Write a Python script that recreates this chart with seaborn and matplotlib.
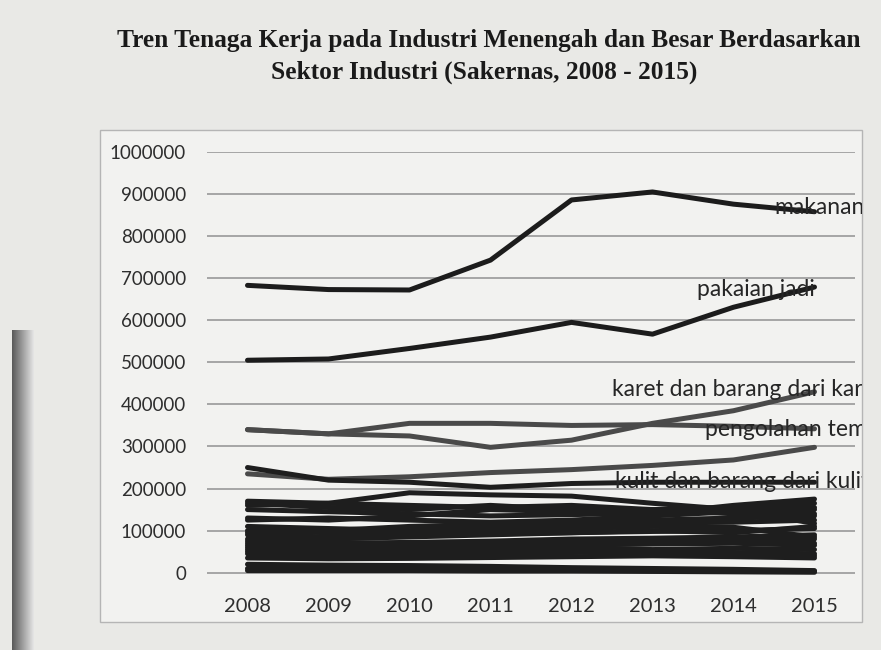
import numpy as np
import pandas as pd
import matplotlib
matplotlib.use("Agg")
import matplotlib.pyplot as plt
import seaborn as sns
from matplotlib.patches import Rectangle
from matplotlib.transforms import Bbox, TransformedBbox

# ---------------- data ----------------
years = ["2008", "2009", "2010", "2011", "2012", "2013", "2014", "2015"]

makanan = [683000, 673000, 672000, 743000, 886000, 905000, 876000, 858000]
pakaian_jadi = [505000, 508000, 533000, 560000, 595000, 567000, 631000, 679000]
karet = [340000, 330000, 325000, 298000, 315000, 355000, 385000, 430000]
tekstil = [340000, 330000, 355000, 355000, 350000, 352000, 348000, 342000]
pengolahan_tembakau = [235000, 222000, 228000, 238000, 245000, 255000, 268000, 298000]
kulit = [250000, 220000, 215000, 203000, 212000, 215000, 215000, 215000]
galian = [160000, 165000, 190000, 185000, 182000, 165000, 150000, 117000]
kayu = [170000, 165000, 160000, 155000, 160000, 150000, 155000, 165000]
kimia = [165000, 155000, 150000, 160000, 150000, 140000, 160000, 175000]
plastik = [150000, 145000, 140000, 135000, 138000, 142000, 148000, 155000]
barang_logam = [130000, 125000, 135000, 150000, 145000, 150000, 140000, 140000]
furnitur = [125000, 130000, 125000, 120000, 125000, 135000, 145000, 150000]
alas_kaki = [110000, 105000, 100000, 108000, 112000, 118000, 120000, 125000]
elektronik = [95000, 100000, 110000, 115000, 120000, 125000, 130000, 135000]
pengolahan_lain = [100000, 95000, 90000, 92000, 95000, 98000, 100000, 105000]
kertas = [90000, 85000, 95000, 100000, 105000, 110000, 108000, 85000]
kendaraan = [80000, 80000, 85000, 90000, 95000, 100000, 95000, 110000]
minuman = [75000, 70000, 72000, 75000, 80000, 82000, 85000, 90000]
percetakan = [70000, 72000, 68000, 70000, 72000, 75000, 78000, 80000]
optik = [65000, 60000, 62000, 65000, 66000, 68000, 70000, 65000]
listrik = [60000, 62000, 65000, 68000, 70000, 72000, 75000, 70000]
logam_dasar = [55000, 50000, 55000, 58000, 60000, 55000, 58000, 55000]
mesin = [50000, 48000, 50000, 52000, 55000, 50000, 48000, 45000]
farmasi = [45000, 42000, 40000, 45000, 48000, 50000, 45000, 40000]
perhiasan = [35000, 33000, 34000, 36000, 38000, 40000, 38000, 35000]
angkutan_lain = [20000, 18000, 17000, 15000, 12000, 10000, 8000, 5000]
batubara = [10000, 10000, 8000, 8000, 6000, 5000, 4000, 3000]
reparasi = [5000, 5000, 5000, 4000, 4000, 3000, 2000, 1000]

series = {
    "makanan": makanan,
    "pakaian jadi": pakaian_jadi,
    "tekstil": tekstil,
    "karet dan barang dari karet": karet,
    "pengolahan tembakau": pengolahan_tembakau,
    "kulit dan barang dari kulit": kulit,
    "barang galian bukan logam": galian,
    "kayu": kayu,
    "kimia": kimia,
    "barang dari plastik": plastik,
    "barang logam": barang_logam,
    "furnitur": furnitur,
    "alas kaki": alas_kaki,
    "elektronik": elektronik,
    "pengolahan lainnya": pengolahan_lain,
    "kertas": kertas,
    "kendaraan bermotor": kendaraan,
    "minuman": minuman,
    "percetakan": percetakan,
    "alat optik": optik,
    "peralatan listrik": listrik,
    "logam dasar": logam_dasar,
    "mesin": mesin,
    "farmasi": farmasi,
    "perhiasan": perhiasan,
    "alat angkutan lainnya": angkutan_lain,
    "batu bara": batubara,
    "jasa reparasi": reparasi,
}

labels = ["makanan", "pakaian jadi", "karet dan barang dari karet",
          "pengolahan tembakau", "kulit dan barang dari kulit"]
label_pos = [(6.51, 869000), (5.55, 672000), (4.50, 435000),
             (5.65, 340000), (4.54, 216000)]

yticks = list(range(0, 1000001, 100000))

# ---------------- frame ----------------
rows = []
for name, vals in series.items():
    for i, (yr, v) in enumerate(zip(years, vals)):
        rows.append({"sektor": name, "idx": i, "tahun": yr, "tenaga": v})
df = pd.DataFrame(rows)

palette = {}
for name in series:
    if name in ("karet dan barang dari karet", "tekstil", "pengolahan tembakau"):
        palette[name] = "#4a4a4a"
    elif name in ("makanan", "pakaian jadi"):
        palette[name] = "#1c1c1c"
    else:
        palette[name] = "#1e1e1e"

sns.set_theme(style="white")
plt.rcParams["font.family"] = ["Lato", "DejaVu Sans"]

fig = plt.figure(figsize=(8.81, 6.50), dpi=100, facecolor="#e9e9e6")

# left page-edge shadow
sh = fig.add_axes([12 / 881, 0, 22 / 881, 320 / 650])
grad = np.linspace(0.35, 0.9, 64)[None, :]
sh.imshow(grad, aspect="auto", cmap="gray", vmin=0, vmax=1, extent=[0, 1, 0, 1])
sh.axis("off")

# chart outer box
fig.patches.append(Rectangle((100 / 881, 1 - 622 / 650), 762 / 881, 492 / 650,
                             transform=fig.transFigure, facecolor="#f2f2f0",
                             edgecolor="#b5b5b5", linewidth=1.0, zorder=-1))

ax = fig.add_axes([207 / 881, 1 - 579 / 650, 648 / 881, 427 / 650])
ax.set_zorder(3)
ax.set_facecolor("none")

sns.lineplot(data=df, x="idx", y="tenaga", hue="sektor", palette=palette,
             linewidth=3.6, legend=False, ax=ax, sort=False)

ax.set_xlim(-0.5, 7.5)
ax.set_ylim(-15000, 1000000)
ax.set_yticks(yticks)
ax.set_yticklabels([str(t) for t in yticks], fontsize=13.5, color="#2e2e2e")
ax.set_xticks(range(len(years)))
ax.set_xticklabels(years, fontsize=14.5, color="#2e2e2e")
ax.tick_params(axis="y", length=0, pad=15)
ax.tick_params(axis="x", length=0, pad=14)
ax.set_xlabel("")
ax.set_ylabel("")
for s in ax.spines.values():
    s.set_visible(False)
for t in yticks:
    ax.axhline(t, color="#a0a0a0", linewidth=1.3, zorder=0)

clip = TransformedBbox(Bbox([[100 / 881, 0], [862 / 881, 1]]), fig.transFigure)
for name, (px, py) in zip(labels, label_pos):
    txt = ax.text(px, py, name, ha="left", va="center", fontsize=16.5,
                  color="#262626", clip_on=True, zorder=5)
    txt.set_clip_box(clip)

fig.text(489 / 881, 1 - 40 / 650,
         "Tren Tenaga Kerja pada Industri Menengah dan Besar Berdasarkan",
         ha="center", va="center", fontsize=18.3, fontweight="bold",
         family=["Liberation Serif", "DejaVu Serif"], color="#1a1a1a")
fig.text(484 / 881, 1 - 72 / 650, "Sektor Industri (Sakernas, 2008 - 2015)",
         ha="center", va="center", fontsize=18.3, fontweight="bold",
         family=["Liberation Serif", "DejaVu Serif"], color="#1a1a1a")

fig.savefig("out.png", dpi=100, facecolor=fig.get_facecolor())
